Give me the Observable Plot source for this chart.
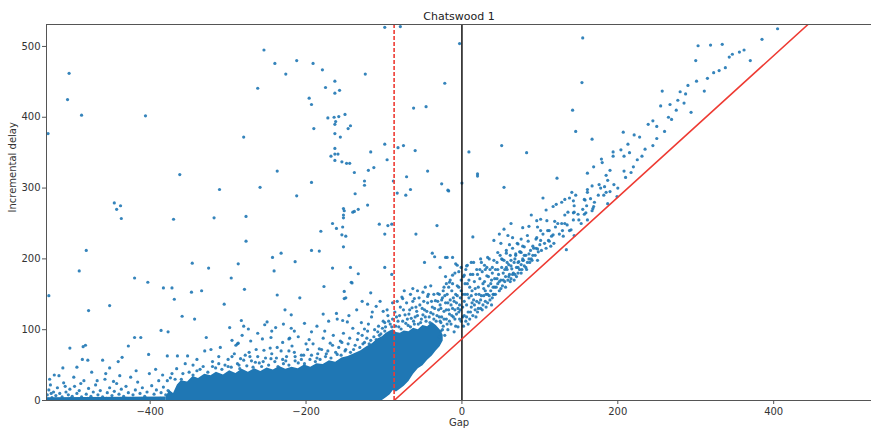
<!DOCTYPE html>
<html><head><meta charset="utf-8">
<script src="https://cdn.jsdelivr.net/npm/d3@7"></script>
<script src="https://cdn.jsdelivr.net/npm/@observablehq/plot@0.6"></script>
<style>body{margin:0;background:#fff;}</style>
</head><body><div id="chart"></div>
<script>
const title = "Chatswood 1";
const xLabel = "Gap";
const yLabel = "Incremental delay";
const xTicks = [-400, -200, 0, 200, 400];
const yTicks = [0, 100, 200, 300, 400, 500];
const zeroGap = [0];
const thresholdGap = [-87];
const diagGap = [-87, 444];
const diagDelay = [0, 531];

// saturated core of the point cloud (where the dots merge into solid blue)
const coreGap  = [-380,-375,-370,-365,-360,-352,-345,-338,-330,-322,-315,-306,-298,-290,-282,-274,-266,-258,-250,-242,-234,-226,-218,-210,-202,-194,-186,-178,-170,-162,-154,-146,-138,-130,-122,-115,-108,-102,-97,-92,-88,-84,-79,-74,-68,-62,-56,-50,-44,-38,-33,-28,-24];
const coreLow  = [0,0,0,0,0,0,0,0,0,0,0,0,0,0,0,0,0,0,0,0,0,0,0,0,0,0,0,0,0,0,0,0,0,0,0,0,0,0,4,8,14,12,16,20,27,37,45,49,57,63,70,76,84];
const coreHigh = [4,14,10,22,28,26,34,31,37,35,40,36,42,38,44,40,45,41,46,43,48,44,47,45,50,47,52,51,56,54,60,62,66,70,76,80,87,90,95,98,100,96,95,98,97,102,100,106,104,110,106,100,92];
const floorGap = [-533, -380];
const floorHigh = [4, 5];

// scattered points
const sparsePts = [
[-504,462],[-506,425],[-488,403],[-531,377],[-406,402],[-254,495],[-240,476],[-226,461],[-212,480],[-262,441],[-280,372],[-237,324],[-259,301],[-212,289],[-362,319],[-311,298],[-446,279],[-443,270],[-438,275],[-437,257],[-370,256],[-318,258],[-277,260],[-277,225],[-482,212],[-491,183],[-530,148],[-420,173],[-403,167],[-383,159],[-372,159],[-369,143],[-346,194],[-325,187],[-287,193],[-296,173],[-279,157],[-347,153],[-334,155],[-305,136],[-452,134],[-479,127],[-243,202],[-232,208],[-241,183],[-237,149],[-214,196],[-227,128],[-219,121],[-208,145],
[-386,99],[-377,97],[-359,119],[-343,115],[-298,103],[-295,85],[-288,80],[-283,113],[-282,92],[-280,105],[-274,101],[-271,84],[-253,107],[-250,111],[-245,89],[-239,103],[-229,108],[-221,88],[-219,102],[-328,89],[-322,72],[-352,63],[-402,65],[-420,89],[-412,89],[-428,77],[-452,46],[-483,78],[-486,76],[-487,58],[-480,57],[-503,74],[-494,47],[-523,36],[-512,46],[-461,57],[-441,55],[-436,61],[-378,63],[-365,63],
[-177,161],[-141,166],[-151,154],[-149,145],[-117,152],[-121,136],[-110,133],[-101,126],[-89,138],[-202,109],[-244,98],[-215,98],[-193,97],[-178,122],[-171,112],[-161,123],[-153,113],[-147,111],[-129,110],[-125,101],[-120,108],[-108,97],[-99,98],[-222,87],[-256,87],[-287,81],[-183,73],[-169,81],[-154,82],[-203,64],[-215,68],[-237,75],[-254,71],[-273,68],[-226,56],[-245,59],[-265,54],[-284,59],
[-181,239],[-166,250],[-153,245],[-154,234],[-149,232],[-140,266],[-152,217],[-193,212],[-183,211],[-166,187],[-143,188],[-133,179],[-142,167],[-151,144],[-106,249],[-95,247],[-90,249],[-99,235],[-59,235],[-32,247],[14,231],[-48,195],[-38,208],[-35,203],[-19,202],[-28,188],[-8,193],[-74,155],[-63,158],[-50,153],[-76,144],[-61,144],[-44,147],[-31,151],[-23,160],[-16,167],[-12,177],[-1,188],[3,177],[-99,188],[-90,178],[-161,243],[-152,258],
[-99,527],[-79,528],[-3,504],[-22,448],[-62,413],[-46,415],[-191,476],[-179,467],[-124,461],[-163,451],[-175,442],[-157,438],[-163,434],[-196,427],[-193,418],[-172,399],[-164,400],[-158,401],[-150,404],[-162,394],[-163,390],[-143,388],[-146,384],[-190,384],[-163,377],[-156,372],[-163,356],[-163,348],[-159,348],[-168,345],[-163,339],[-154,337],[-148,335],[-144,335],[-117,351],[-99,362],[-96,340],[-82,357],[-75,360],[-60,353],[-138,322],[-120,325],[-113,329],[-193,308],[-125,310],[-125,304],[-137,292],[-121,276],[-152,271],[-151,268],[-133,270],[-138,267],[-152,262],[-88,310],[-71,316],[-44,324],[-83,293],[-72,290],[-66,298],[-26,306],[-17,296],[0,307],[9,351],[51,360],[83,350],[20,320],[20,317],[54,301],[-18,297],[142,410],
[405,525],[155,512],[154,449],[303,501],[319,502],[334,503],[343,485],[347,489],[356,492],[370,480],[323,463],[330,466],[301,451],[311,437],[257,437],[280,436],[287,433],[277,424],[267,418],[255,416],[294,407],[269,397],[239,390],[250,387],[231,345],[146,380],[167,369],[207,379],[221,375],[213,362],[194,351],[204,354],[208,345],[194,345],[179,341],[180,336],[169,330],[161,321],[208,324],[217,322],[187,311],[176,305],[183,302],[185,294],[190,295],[161,298],[161,294],[199,288],[169,274],[167,268],[157,284],[141,294],[146,290],[138,286],[143,282],[128,280],[132,284],[144,275],[122,314],[104,286],[117,274],[121,277],[108,269],[143,265],[149,263],[157,263],[161,255],[132,262],[158,283],[187,278],[168,271],[144,266],[159,265],[136,266],[167,303],[134,213],[144,233],[153,250]
];

// dense band right of the threshold
const bandPts = [
[89,262],[96,254],[101,256],[109,254],[119,253],[123,250],[132,250],[143,255],[140,241],[86,246],[78,244],[97,245],[101,240],[112,240],[117,234],[129,240],[84,233],[63,250],[54,242],[48,235],[59,233],[65,230],[76,228],[95,228],[101,226],[111,226],[41,226],[50,222],[61,220],[72,221],[80,217],[91,218],[97,214],[114,218],[76,209],[86,207],[69,207],[57,208],[46,209],[33,202],[41,198],[52,199],[63,198],[78,198],[89,200],[97,198],[24,200],[29,191],[39,188],[57,188],[72,188],[82,188],[-21,202],[-12,202],[-6,191],[7,191],
[-85,105],[-82,112],[-80,120],[-78,101],[-75,128],[-72,109],[-70,115],[-68,122],[-66,104],[-64,131],[-62,112],[-60,118],[-58,126],[-56,108],[-54,135],[-52,115],[-50,121],[-48,128],[-46,112],[-44,138],[-42,118],[-40,124],[-38,132],[-36,115],[-34,141],[-32,120],[-30,128],[-28,135],[-27,110],[-25,145],
[-84,118],[-81,104],[-79,132],[-76,112],[-73,121],[-71,138],[-69,106],[-67,128],[-65,116],[-63,140],[-61,108],[-59,132],[-57,120],[-55,145],[-53,110],[-51,130],[-49,140],[-47,118],[-45,126],[-43,150],[-41,110],[-39,140],[-37,122],[-35,130],[-33,112],[-31,140],[-29,118],[-86,125],[-83,140],[-77,146],[-66,150],[-57,155],[-47,160],[-40,162],[-36,150],
[-29,90],[-27,98],[-24,105],[-22,92],[-20,115],[-18,100],[-16,122],[-14,108],[-12,130],[-10,97],[-9,115],[-7,138],[-5,104],[-4,125],[-2,145],[-1,112],[1,132],[-26,118],[-23,126],[-21,138],[-19,150],[-17,128],[-15,142],[-13,155],[-11,118],[-8,150],[-6,162],[-3,135],[-1,170],[-24,155],[-20,165],[-15,170],[-10,140],[-27,130],
[-28,112],[-26,142],[-25,100],[-23,115],[-22,148],[-20,128],[-19,108],[-18,138],[-17,160],[-16,112],[-14,135],[-13,120],[-12,165],[-11,145],[-9,128],[-8,105],[-7,122],[-6,148],[-5,130],[-4,160],[-3,115],[-2,128],[-1,155],[-29,150],[-21,175],[-9,180],[-4,182],
[2,105],[3,120],[4,150],[5,112],[6,135],[7,165],[8,125],[9,145],[10,115],[11,178],[12,132],[13,155],[14,120],[15,142],[16,168],[17,128],[18,150],[19,185],[20,125],[21,160],[22,138],[23,172],[24,130],[25,148],[26,182],[27,135],[28,158],[29,168],[30,140],[31,150],[32,176],[33,138],[34,162],[35,148],[36,185],[37,155],[38,170],[39,145],[40,160],[2,175],[5,185],[10,160],[15,195],[25,195],[35,200],
[1,118],[1,150],[3,140],[4,165],[6,118],[7,150],[8,108],[9,170],[11,125],[12,148],[13,138],[14,178],[16,135],[17,158],[18,118],[19,140],[21,130],[22,150],[23,185],[24,142],[26,128],[27,165],[28,148],[30,155],[31,132],[32,188],[33,150],[34,175],[36,142],[37,165],[38,135],[39,180],[40,150],[6,190],[12,195],[20,178],[30,185],
[41,150],[42,172],[43,185],[44,160],[45,195],[46,165],[47,178],[48,155],[49,205],[50,170],[51,188],[52,162],[53,180],[54,198],[55,168],[56,175],[57,212],[58,185],[59,170],[60,192],[61,178],[62,205],[63,172],[64,186],[65,215],[66,180],[67,195],[68,178],[69,205],[70,188],[71,222],[72,180],[73,196],[74,185],[75,210],[76,192],[77,185],[78,218],[79,198],[80,190],[82,205],[84,195],[85,225],[86,200],[88,212],[90,198],[92,215],[94,205],[96,230],[98,210],[100,220],[102,212],[104,235],[106,222],[108,215],[110,240],[112,225],[115,232],[118,222],[120,245],[125,235],[128,250],[130,232],[135,248],[138,240],[150,255],[155,270],[160,275],[165,285],[170,280],[175,290],[178,300],[182,290],[195,305],[200,300],[210,315],[220,330],[225,340],[235,355],[245,360],[250,370],[260,380],[265,400],[275,410],[285,420],[290,445],[315,455],[338,470],[362,495],[385,510],[300,480],[245,395],[228,372],[215,350],[190,325],[185,318],
[42,160],[43,150],[45,172],[46,185],[48,168],[50,158],[51,200],[53,170],[55,185],[56,160],[58,195],[60,175],[62,168],[63,190],[65,178],[67,170],[68,200],[70,175],[72,195],[74,210],[76,180],[78,200],[80,205],[83,185],[87,195],[91,205],[95,215]
];

// speckled edge above the core
const fringePts = [
[-378,28],[-372,38],[-366,45],[-360,30],[-355,52],[-350,40],[-345,36],[-340,58],[-336,44],[-332,48],[-326,40],[-320,55],[-316,46],[-312,62],[-308,44],[-304,50],[-300,58],[-296,47],[-292,66],[-288,52],[-285,45],[-280,57],[-276,49],[-272,62],[-268,47],[-264,72],[-260,53],[-257,48],[-252,60],[-248,50],[-244,66],[-240,55],[-236,48],[-232,70],[-229,52],[-225,62],[-222,50],[-218,77],[-214,56],[-210,53],[-206,64],[-202,52],[-198,72],[-195,58],[-191,80],[-188,55],[-185,66],[-182,58],[-178,88],[-175,62],[-172,70],[-168,60],[-165,92],[-162,68],[-158,75],[-155,64],[-152,95],[-149,72],[-146,80],[-143,68],[-140,102],[-137,78],[-134,86],[-131,75],[-128,92],[-125,82],[-122,88],[-119,80],[-116,118],[-113,90],[-110,86],[-107,105],[-104,94],[-101,112],[-98,104],[-95,120],[-92,108],[-89,115],[-330,70],[-310,75],[-290,78],[-262,95],[-230,82],[-210,90],[-196,86],[-186,105],[-176,98],[-160,115],[-145,120],[-135,128],[-128,140],[-115,125],[-105,140],[-96,128],
[-300,48],[-295,62],[-286,50],[-278,64],[-270,56],[-262,62],[-255,55],[-246,74],[-238,60],[-230,58],[-222,70],[-214,62],[-206,58],[-200,80],[-193,64],[-186,60],[-180,72],[-174,66],[-166,78],[-160,65],[-156,84],[-150,70],[-144,88],[-139,72],[-133,95],[-127,80],[-121,98],[-117,85],[-112,100],[-106,92],[-102,102],[-99,110],[-94,112],[-90,104],[-320,48],[-340,42],[-358,38],[-368,30],[-345,50],[-312,52]
];

// low points along the floor on the far left
const floorPts = [
[-532,8],[-530,15],[-528,22],[-526,4],[-524,12],[-521,7],[-519,18],[-516,10],[-513,5],[-511,25],[-508,12],[-505,8],[-503,16],[-500,6],[-497,20],[-494,10],[-491,14],[-488,5],[-485,28],[-482,9],[-479,17],[-476,6],[-473,12],[-470,22],[-467,8],[-464,14],[-461,5],[-458,30],[-455,11],[-452,18],[-449,7],[-446,13],[-443,24],[-440,9],[-437,16],[-434,6],[-431,20],[-428,11],[-425,33],[-422,8],[-419,15],[-416,26],[-413,10],[-410,18],[-407,6],[-404,12],[-401,38],[-398,21],[-395,9],[-392,15],[-389,28],[-386,11],[-383,19],[-380,8],[-377,14],[-374,32],[-529,30],[-517,35],[-498,33],[-475,40],[-457,38],[-439,35],[-418,42],[-393,44],[-384,36],[-468,28],[-447,27],[-509,20],[-489,24],[-527,10],[-502,3],[-480,3],[-456,3],[-430,3],[-405,3],[-387,3],[-531,2]
];

const blue = "#1f77b4";
const red = "#ee3b33";
const coreRows = coreGap.map((g, i) => ({gap: g, low: coreLow[i], high: coreHigh[i]}));
const floorRows = floorGap.map((g, i) => ({gap: g, high: floorHigh[i]}));
const diagRows = diagGap.map((g, i) => ({gap: g, delay: diagDelay[i]}));
const allPts = [...floorPts, ...fringePts, ...bandPts, ...sparsePts];

const chart = Plot.plot({
  width: 871, height: 431,
  marginLeft: 46, marginRight: 0, marginTop: 24, marginBottom: 31,
  style: {fontFamily: "DejaVu Sans, sans-serif", fontSize: "10px", color: "#333", background: "#fff"},
  x: {domain: [-533, 525.5], label: null},
  y: {domain: [0, 531], label: null},
  marks: [
    Plot.areaY(floorRows, {x: "gap", y1: 0, y2: "high", fill: blue, curve: "linear"}),
    Plot.areaY(coreRows, {x: "gap", y1: "low", y2: "high", fill: blue, curve: "linear"}),
    Plot.dot(allPts, {x: d => d[0], y: d => d[1], r: 1.6, fill: blue, fillOpacity: 0.9, stroke: null, clip: true}),
    Plot.ruleX(thresholdGap, {stroke: red, strokeWidth: 1.6, strokeDasharray: "4,2"}),
    Plot.ruleX(zeroGap, {stroke: "#111", strokeWidth: 1.5}),
    Plot.line(diagRows, {x: "gap", y: "delay", stroke: red, strokeWidth: 1.6, clip: true}),
    Plot.ruleX([-533], {stroke: "#555", strokeWidth: 1}),
    Plot.ruleY([0], {stroke: "#555", strokeWidth: 1}),
    Plot.ruleY([531], {stroke: "#555", strokeWidth: 1}),
    Plot.axisX({ticks: xTicks, tickSize: 4, tickPadding: 3, label: null, stroke: "#555"}),
    Plot.axisY({ticks: yTicks, tickSize: 4, tickPadding: 2, label: null, stroke: "#555"}),
    Plot.text([title], {frameAnchor: "top", dy: -12, fontSize: 11, fill: "#222"}),
    Plot.text([xLabel], {frameAnchor: "bottom", dy: 25, fill: "#333"}),
    Plot.text([yLabel], {frameAnchor: "left", dx: -34, rotate: -90, fill: "#333"})
  ]
});
document.getElementById("chart").appendChild(chart);
</script>
</body></html>
